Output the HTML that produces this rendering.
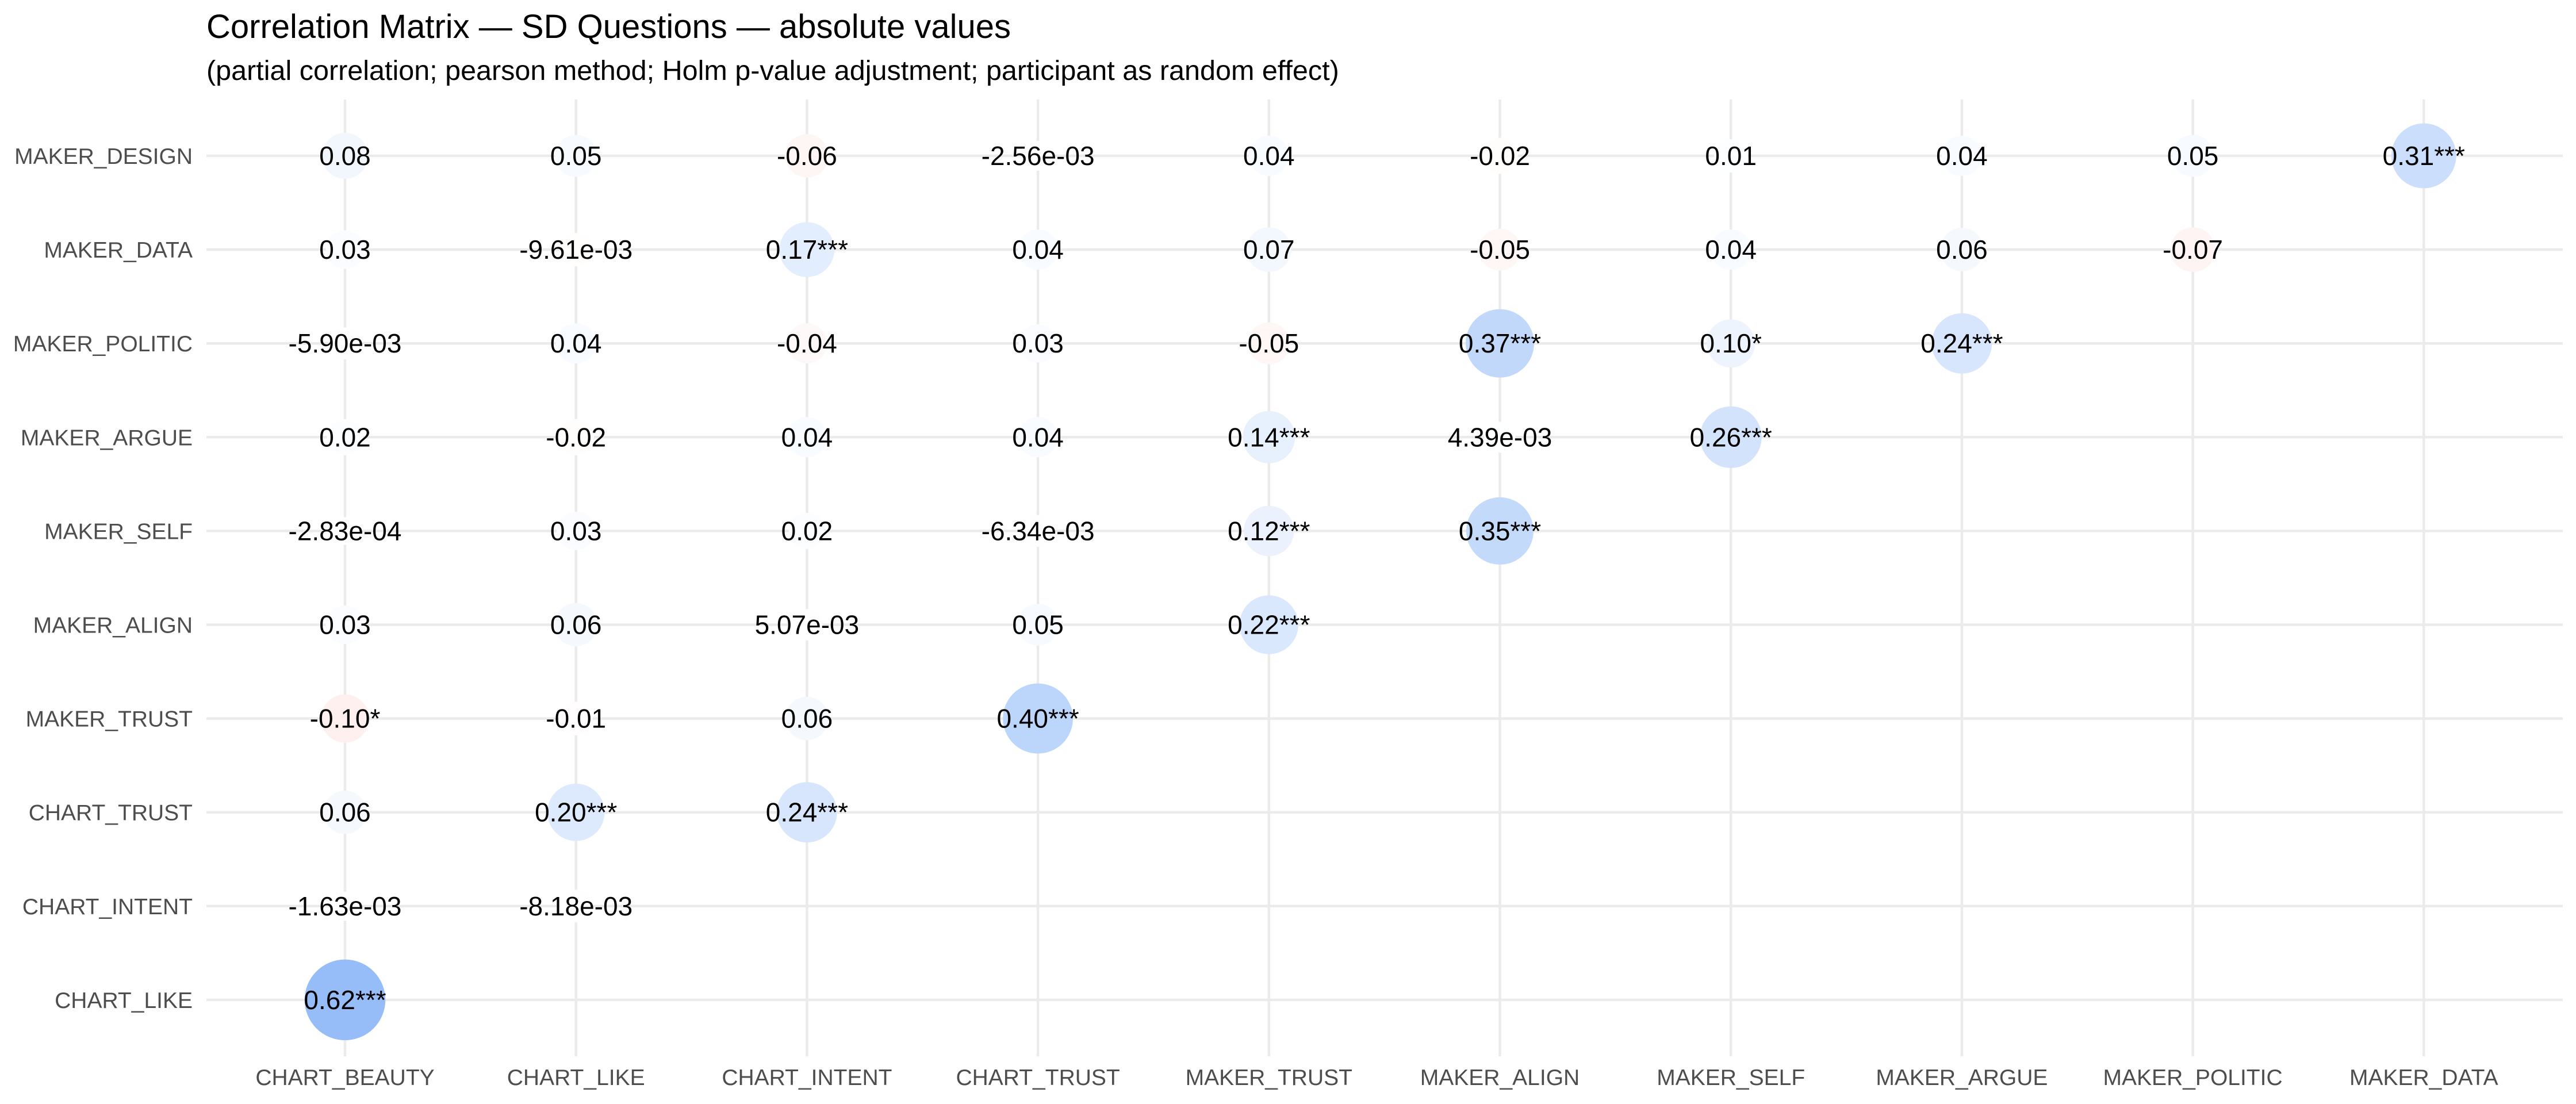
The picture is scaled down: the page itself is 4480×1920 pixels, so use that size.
<!DOCTYPE html>
<html><head><meta charset="utf-8">
<style>
html,body{margin:0;padding:0;background:#fff;}
svg{display:block;font-family:"Liberation Sans",Arial,sans-serif;}
</style></head>
<body>
<svg id="chart" width="4480" height="1920" viewBox="0 0 4480 1920" xmlns="http://www.w3.org/2000/svg">
<rect width="4480" height="1920" fill="#fff"/>
<text x="359" y="66" font-size="58" fill="#000">Correlation Matrix — SD Questions — absolute values</text>
<text x="359" y="139" font-size="48.5" fill="#000">(partial correlation; pearson method; Holm p-value adjustment; participant as random effect)</text>
<g id="grid"></g>
<g id="marks"></g>
<g id="labels"></g>
<g id="axes"></g>
</svg>
<script>
const xCategories = ["CHART_BEAUTY","CHART_LIKE","CHART_INTENT","CHART_TRUST","MAKER_TRUST","MAKER_ALIGN","MAKER_SELF","MAKER_ARGUE","MAKER_POLITIC","MAKER_DATA"];
const yCategories = ["MAKER_DESIGN","MAKER_DATA","MAKER_POLITIC","MAKER_ARGUE","MAKER_SELF","MAKER_ALIGN","MAKER_TRUST","CHART_TRUST","CHART_INTENT","CHART_LIKE"];
const rowMakerDesign = [0.08, 0.05, -0.06, -2.56e-3, 0.04, -0.02, 0.01, 0.04, 0.05, 0.31];
const starsMakerDesign = ["","","","","","","","","","***"];
const rowMakerData = [0.03, -9.61e-3, 0.17, 0.04, 0.07, -0.05, 0.04, 0.06, -0.07];
const starsMakerData = ["","","***","","","","","",""];
const rowMakerPolitic = [-5.90e-3, 0.04, -0.04, 0.03, -0.05, 0.37, 0.10, 0.24];
const starsMakerPolitic = ["","","","","","***","*","***"];
const rowMakerArgue = [0.02, -0.02, 0.04, 0.04, 0.14, 4.39e-3, 0.26];
const starsMakerArgue = ["","","","","***","","***"];
const rowMakerSelf = [-2.83e-4, 0.03, 0.02, -6.34e-3, 0.12, 0.35];
const starsMakerSelf = ["","","","","***","***"];
const rowMakerAlign = [0.03, 0.06, 5.07e-3, 0.05, 0.22];
const starsMakerAlign = ["","","","","***"];
const rowMakerTrust = [-0.10, -0.0104, 0.06, 0.40];
const starsMakerTrust = ["*","","","***"];
const rowChartTrust = [0.06, 0.20, 0.24];
const starsChartTrust = ["","***","***"];
const rowChartIntent = [-1.63e-3, -8.18e-3];
const starsChartIntent = ["",""];
const rowChartLike = [0.62];
const starsChartLike = ["***"];

const rows = [rowMakerDesign,rowMakerData,rowMakerPolitic,rowMakerArgue,rowMakerSelf,rowMakerAlign,rowMakerTrust,rowChartTrust,rowChartIntent,rowChartLike];
const stars = [starsMakerDesign,starsMakerData,starsMakerPolitic,starsMakerArgue,starsMakerSelf,starsMakerAlign,starsMakerTrust,starsChartTrust,starsChartIntent,starsChartLike];

const NS = "http://www.w3.org/2000/svg";
const X0 = 600, DX = 401.7, Y0 = 271, DY = 163.1;
function xScale(i){ return X0 + i*DX; }
function yScale(j){ return Y0 + j*DY; }
function rScale(v){ return 23 + 60*Math.sqrt(Math.abs(v)); }
function colorScale(v){
  const a = Math.min(1, Math.abs(v));
  const end = v >= 0 ? [87,149,244] : [240,100,80];
  const c = end.map(e => Math.round(255 - a*(255-e)));
  return "rgb(" + c.join(",") + ")";
}
function fmt(v){
  if (Math.abs(v) < 0.01 && v !== 0) {
    const s = v.toExponential(2);
    return s.replace(/e([+-])(\d)$/, "e$10$2");
  }
  return v.toFixed(2);
}
function mk(tag, attrs){
  const el = document.createElementNS(NS, tag);
  for (const k in attrs) el.setAttribute(k, attrs[k]);
  return el;
}
const grid = document.getElementById("grid");
const marks = document.getElementById("marks");
const labels = document.getElementById("labels");
const axes = document.getElementById("axes");

yCategories.forEach((name, j) => {
  const ln = mk("line", {x1:359, x2:4457, y1:yScale(j), y2:yScale(j), stroke:"#ebebeb", "stroke-width":4.5});
  
  
  grid.appendChild(ln);
  const t = mk("text", {x:335, y:yScale(j)+14, "text-anchor":"end", "font-size":39, fill:"#4d4d4d"});
  t.textContent = name;
  
  
  axes.appendChild(t);
});
xCategories.forEach((name, i) => {
  const ln = mk("line", {x1:xScale(i), x2:xScale(i), y1:173, y2:1837, stroke:"#ebebeb", "stroke-width":4.5});
  
  
  grid.appendChild(ln);
  const t = mk("text", {x:xScale(i), y:1887, "text-anchor":"middle", "font-size":39, fill:"#4d4d4d"});
  t.textContent = name;
  
  
  axes.appendChild(t);
});
rows.forEach((row, j) => {
  row.forEach((v, i) => {
    const cx = xScale(i), cy = yScale(j);
    const c = mk("circle", {cx:cx, cy:cy, r:rScale(v), fill:colorScale(v)});
    
    
    marks.appendChild(c);
    const t = mk("text", {x:cx, y:cy+16, "text-anchor":"middle", "font-size":46, fill:"#000"});
    t.textContent = fmt(v) + stars[j][i];
    
    
    labels.appendChild(t);
  });
});
</script>
</body></html>
